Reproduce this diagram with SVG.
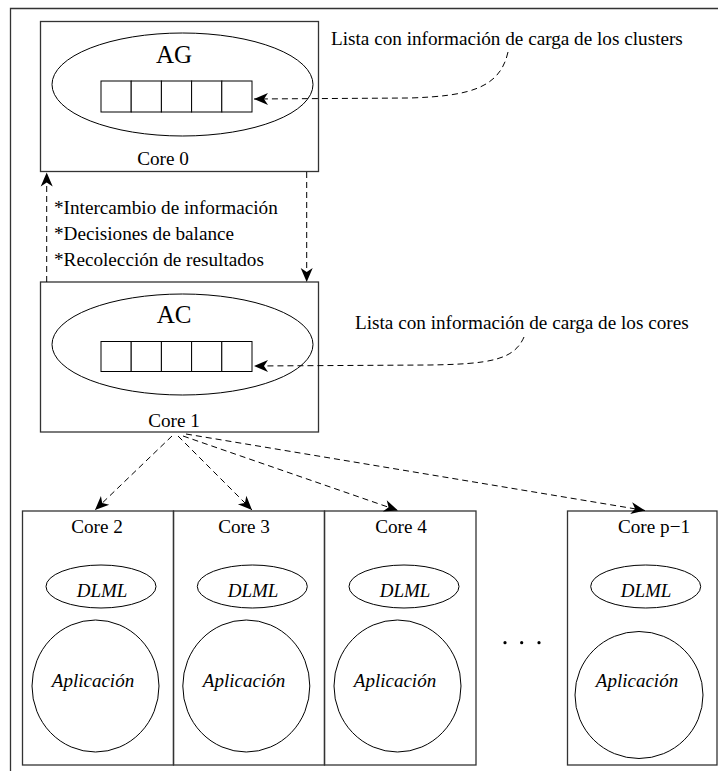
<svg xmlns="http://www.w3.org/2000/svg" width="718" height="771" viewBox="0 0 718 771">
<style>
.box{fill:none;stroke:#333;stroke-width:1.3}
.ell{fill:none;stroke:#000;stroke-width:1}
.cell{fill:#fff;stroke:#000;stroke-width:1}
.t{font-family:"Liberation Serif","Times New Roman",serif;font-size:19.2px;fill:#000}
.it{font-family:"Liberation Serif","Times New Roman",serif;font-size:19px;font-style:italic;fill:#000}
.big{font-family:"Liberation Serif","Times New Roman",serif;font-size:25px;fill:#000}
.dash{fill:none;stroke:#000;stroke-width:1;stroke-dasharray:6 4}
</style>
<defs>
<marker id="ah" viewBox="-15 -7 16 14" refX="0" refY="0" markerWidth="16" markerHeight="14" markerUnits="userSpaceOnUse" orient="auto">
<path d="M0,0 L-14,-6 L-10,0 L-14,6 Z" fill="#000"/>
</marker>
</defs>
<rect width="718" height="771" fill="#fff"/>
<g id="frame">
<path d="M10.5,771 L10.5,8.5 L718,8.5" fill="none" stroke="#333" stroke-width="1.3"/>
</g>
<g id="core0">
<rect class="box" x="40.5" y="21.5" width="278" height="150"/>
<ellipse class="ell" cx="182.5" cy="84.5" rx="130.5" ry="51.5"/>
<text class="big" x="174" y="63" text-anchor="middle">AG</text>
<rect class="cell" x="101" y="81" width="30.2" height="31"/>
<rect class="cell" x="131.2" y="81" width="30.2" height="31"/>
<rect class="cell" x="161.4" y="81" width="30.2" height="31"/>
<rect class="cell" x="191.6" y="81" width="30.2" height="31"/>
<rect class="cell" x="221.8" y="81" width="30.2" height="31"/>
<text class="t" x="163" y="165" text-anchor="middle">Core 0</text>
</g>
<g id="core1">
<rect class="box" x="40.5" y="282" width="278" height="150"/>
<ellipse class="ell" cx="182.5" cy="344.5" rx="130.5" ry="50.5"/>
<text class="big" x="174" y="323" text-anchor="middle">AC</text>
<rect class="cell" x="101" y="341.5" width="30.2" height="30"/>
<rect class="cell" x="131.2" y="341.5" width="30.2" height="30"/>
<rect class="cell" x="161.4" y="341.5" width="30.2" height="30"/>
<rect class="cell" x="191.6" y="341.5" width="30.2" height="30"/>
<rect class="cell" x="221.8" y="341.5" width="30.2" height="30"/>
<text class="t" x="174" y="426.5" text-anchor="middle">Core 1</text>
</g>
<g id="notes">
<text class="t" x="331" y="45">Lista con información de carga de los clusters</text>
<text class="t" x="355" y="329">Lista con información de carga de los cores</text>
<text class="t" x="54" y="214">*Intercambio de información</text>
<text class="t" x="54" y="240">*Decisiones de balance</text>
<text class="t" x="54" y="266">*Recolección de resultados</text>
</g>
<g id="core2">
<rect class="box" x="22.5" y="511" width="151" height="254"/>
<text class="t" x="97" y="533" text-anchor="middle">Core 2</text>
<ellipse class="ell" cx="101" cy="586.5" rx="55" ry="21.5"/>
<text class="it" x="102" y="597" text-anchor="middle">DLML</text>
<ellipse class="ell" cx="95.5" cy="686" rx="63.5" ry="66"/>
<text class="it" x="93" y="687" text-anchor="middle">Aplicación</text>
</g>
<g id="core3">
<rect class="box" x="173.5" y="511" width="151" height="254"/>
<text class="t" x="244" y="533" text-anchor="middle">Core 3</text>
<ellipse class="ell" cx="252.3" cy="586.5" rx="55" ry="21.5"/>
<text class="it" x="253" y="597" text-anchor="middle">DLML</text>
<ellipse class="ell" cx="246.3" cy="686" rx="63.5" ry="66"/>
<text class="it" x="244" y="687" text-anchor="middle">Aplicación</text>
</g>
<g id="core4">
<rect class="box" x="324.5" y="511" width="151.5" height="254"/>
<text class="t" x="401" y="533" text-anchor="middle">Core 4</text>
<ellipse class="ell" cx="404" cy="586.5" rx="55" ry="21.5"/>
<text class="it" x="405" y="597" text-anchor="middle">DLML</text>
<ellipse class="ell" cx="397.5" cy="686" rx="63.5" ry="66"/>
<text class="it" x="395" y="687" text-anchor="middle">Aplicación</text>
</g>
<g id="dots">
<circle cx="505" cy="642.7" r="1.6" fill="#000"/>
<circle cx="521.7" cy="642.7" r="1.6" fill="#000"/>
<circle cx="539" cy="642.7" r="1.6" fill="#000"/>
</g>
<g id="corep1">
<rect class="box" x="567.5" y="511" width="149.5" height="254"/>
<text class="t" x="654" y="533" text-anchor="middle">Core p−1</text>
<ellipse class="ell" cx="645.7" cy="586.5" rx="55" ry="21.5"/>
<text class="it" x="646" y="597" text-anchor="middle">DLML</text>
<ellipse class="ell" cx="639" cy="695" rx="64" ry="63.5"/>
<text class="it" x="637" y="687" text-anchor="middle">Aplicación</text>
</g>
<g id="connectors">
<path class="dash" d="M508,52 C500,88 470,96 410,98 L254,99" marker-end="url(#ah)"/>
<path class="dash" d="M524,337 C514,360 490,364 430,365 L254,366" marker-end="url(#ah)"/>
<path class="dash" d="M46.7,282 L46.7,172.5" marker-end="url(#ah)"/>
<path class="dash" d="M306.7,172 L306.7,282" marker-end="url(#ah)"/>
<path class="dash" d="M172,436 L95,510" marker-end="url(#ah)"/>
<path class="dash" d="M178,436 L252,510" marker-end="url(#ah)"/>
<path class="dash" d="M183,436 L398,510.5" marker-end="url(#ah)"/>
<path class="dash" d="M186,434 L645,510.5" marker-end="url(#ah)"/>
</g>
</svg>
